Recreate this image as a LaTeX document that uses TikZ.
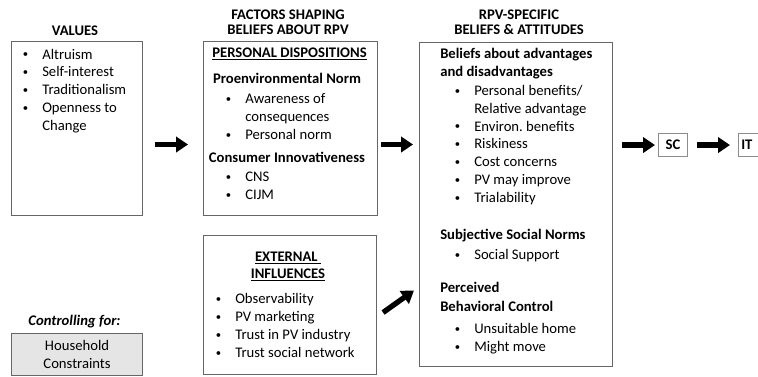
\documentclass[tikz,border=0pt]{standalone}
\usepackage{fontspec}
\setmainfont{Carlito}
\usepackage{tikz}
\usetikzlibrary{arrows.meta,positioning,calc}

\tikzset{
  box/.style={draw=black!60, line width=0.8pt, anchor=north west, inner sep=0pt},
  txt/.style={inner sep=0pt, align=left, font=\fontsize{11}{13.4}\selectfont},
  blist/.style={txt, anchor=base west},
  head/.style={inner sep=0pt, align=center, font=\fontsize{11}{11.5}\selectfont\bfseries},
  subhead/.style={txt, anchor=base west, font=\fontsize{11}{13.6}\selectfont\bfseries},
  fatarrow/.style={-{Triangle[length=9pt,width=11.5pt]}, line width=4pt}
}
\newcommand{\bl}{\llap{\raisebox{0.8pt}{\fontsize{8}{8}\selectfont\textbullet}\hspace{10.5pt}}}

\begin{document}
\frenchspacing
\begin{tikzpicture}[x=0.75pt,y=-0.75pt]
  \useasboundingbox (0,0) rectangle (758,376);
  \coordinate (arrowrow) at (0,144.5);

  % column titles
  \node[head] (valtitle) at (75,31) {VALUES};
  \node[head] (factitle) at (288,22.5) {FACTORS SHAPING\\BELIEFS ABOUT RPV};
  \node[head] (rpvtitle) at (519,22.5) {RPV-SPECIFIC\\BELIEFS \& ATTITUDES};

  % boxes
  \node[box, minimum width=98.25pt, minimum height=130.5pt] (values) at (11,41) {};
  \node[box, minimum width=130.5pt, minimum height=130.5pt] (personal) at (203,41) {};
  \node[box, minimum width=129.75pt, minimum height=104.25pt] (ext) at (203,235) {};
  \node[box, minimum width=144.75pt, minimum height=243pt] (rpv) at (419,42) {};
  \node[box, fill=black!10, minimum width=98.25pt, minimum height=31.5pt] (house) at (11,333) {};
  \node[box, draw=black!45, minimum width=21.75pt, minimum height=17.25pt] (sc) at (658,133) {};
  \node[box, draw=black!45, minimum width=30pt, minimum height=17.25pt] (it) at (738,133) {};

  % values (lists are placed at the baseline of their last line)
  \node[blist] (vallist) at (42,130.5) {\bl Altruism\\\bl Self-interest\\\bl Traditionalism\\\bl Openness to\\Change};

  % personal dispositions
  \node[head] (perstitle) at (289.5,54) {\underline{PERSONAL DISPOSITIONS}};
  \node[head] (proenv) at (287,78) {Proenvironmental Norm};
  \node[blist] (proenvlist) at (245,139.5) {\bl Awareness of\\consequences\\\bl Personal norm};
  \node[head] (innov) at (287,157) {Consumer Innovativeness};
  \node[blist] (innovlist) at (245,199.5) {\bl CNS\\\bl CIJM};

  % external influences
  \node[head, font=\fontsize{11}{12.8}\selectfont\bfseries] (exttitle) at (288,266.5) {\underline{EXTERNAL\ }\\\underline{INFLUENCES}};
  \node[blist] (extlist) at (235,357.5) {\bl Observability\\\bl PV marketing\\\bl Trust in PV industry\\\bl Trust social network};

  % rpv-specific beliefs
  \node[subhead] (adv) at (440,76.5) {Beliefs about advantages\\and disadvantages};
  \node[blist] (advlist) at (474,202.5) {\bl Personal benefits/\\Relative advantage\\\bl Environ. benefits\\\bl Riskiness\\\bl Cost concerns\\\bl PV may improve\\\bl Trialability};
  \node[subhead] (norms) at (440,239.5) {Subjective Social Norms};
  \node[blist] (normslist) at (474,259.5) {\bl Social Support};
  \node[subhead, font=\fontsize{11}{14.2}\selectfont\bfseries] (pbc) at (440,311.5) {Perceived\\Behavioral Control};
  \node[blist] (pbclist) at (474,351.5) {\bl Unsuitable home\\\bl Might move};

  % controls
  \node[head] (ctrl) at (74.5,322) {\textit{Controlling for:}};
  \node[txt, align=center] (housetext) at (house.center) {Household\\Constraints};

  % outcomes
  \node[head] (sctext) at (sc.center) {SC};
  \node[head, anchor=west] (ittext) at (741,144.5) {IT};

  % arrows
  \draw[fatarrow, shorten <=9pt, shorten >=11.25pt] (values.east |- arrowrow) -- (personal.west |- arrowrow);
  \draw[fatarrow, shorten <=2.25pt, shorten >=4.5pt] (personal.east |- arrowrow) -- (rpv.west |- arrowrow);
  \draw[fatarrow] ([xshift=4.5pt,yshift=-5.6pt]ext.east) -- ([xshift=-3.75pt,yshift=10.9pt]rpv.west |- ext.east);
  \draw[fatarrow, shorten <=6.75pt, shorten >=2.25pt] (rpv.east |- sc.west) -- (sc.west);
  \draw[fatarrow, shorten <=6.75pt, shorten >=6pt] (sc.east) -- (it.west);
\end{tikzpicture}
\end{document}
